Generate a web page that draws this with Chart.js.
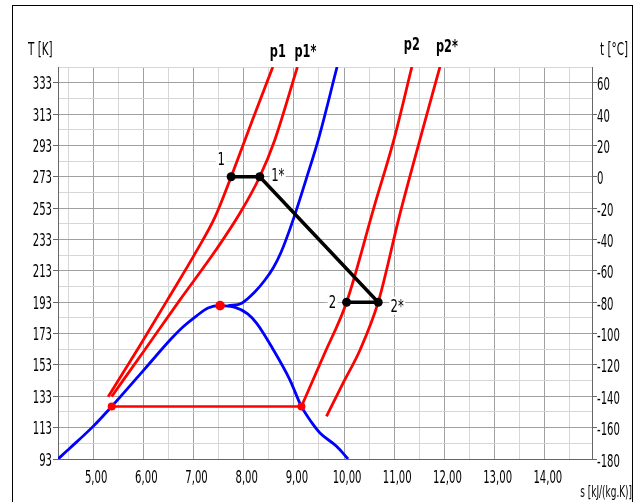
<!DOCTYPE html>
<html>
<head>
<meta charset="utf-8">
<script src="https://cdn.jsdelivr.net/npm/chart.js@4.4.1/dist/chart.umd.min.js"></script>
<style>
  html, body { margin: 0; padding: 0; background: #fff; }
</style>
</head>
<body>
<canvas id="c" width="635" height="502"></canvas>
<script>
// s [kJ/(kg.K)] and T [K]
const domeS = [4.30, 4.54, 5.00, 5.37, 6.03, 6.56, 6.80, 7.03, 7.29, 7.53, 7.83, 8.08, 8.26, 8.59, 8.92, 9.15, 9.35, 9.52, 9.85, 10.08];
const domeT = [93, 100, 113.8, 126.5, 150.5, 169.8, 177.5, 183.5, 189.3, 190.8, 189.7, 185.6, 179.5, 162.7, 143.5, 126.5, 116.5, 109.6, 101.1, 93];

const critS = [7.69, 7.96, 8.22, 8.42, 8.59, 8.74, 8.99, 9.25, 9.49, 9.86];
const critT = [190.7, 192.4, 199.5, 207, 215, 224.5, 246, 272, 297, 343];

const p1S = [5.30, 5.93, 6.53, 7.05, 7.43, 7.75, 8.16, 8.58];
const p1T = [132.7, 165.2, 197.1, 225.1, 247.4, 273, 308, 343];

const p1sS = [5.37, 6.03, 6.73, 7.45, 7.93, 8.32, 8.62, 9.07];
const p1sT = [132.9, 162.7, 194.5, 226.4, 250, 273, 296.5, 343];

const p2S = [9.15, 9.60, 10.05, 10.60, 11.00, 11.35];
const p2T = [126.5, 159.5, 193, 254, 297.5, 343];

const p2sS = [9.65, 9.98, 10.32, 10.68, 11.10, 11.51, 11.91];
const p2sT = [120.2, 141.4, 162.7, 193, 247.6, 296.5, 343];

// liquid-vapour line and critical point
const satS = [5.37, 9.15];
const satT = [126.5, 126.5];
const critPointS = [7.53];
const critPointT = [190.8];

// process 1 -> 1* -> 2* -> 2
const procNames = ['1', '1*', '2*', '2'];
const procS = [7.75, 8.32, 10.68, 10.05];
const procT = [273, 273, 193, 193];

const curveNames = ['p1', 'p1*', 'p2', 'p2*'];

// axis ticks
const sTicks = [4.5, 5, 5.5, 6, 6.5, 7, 7.5, 8, 8.5, 9, 9.5, 10, 10.5, 11, 11.5, 12, 12.5, 13, 13.5, 14, 14.5];
const kTicks = [93, 103, 113, 123, 133, 143, 153, 163, 173, 183, 193, 203, 213, 223, 233, 243, 253, 263, 273, 283, 293, 303, 313, 323, 333, 343];
const cTicks = [-180, -160, -140, -120, -100, -80, -60, -40, -20, 0, 20, 40, 60];

const sLabel = (v) => Number.isInteger(v) ? v.toFixed(2).replace('.', ',') : '';
const kLabel = (v) => (v - 93) % 20 === 0 && v < 343 ? String(v) : '';
const cLabel = (v) => String(v);

const FONT = "'DejaVu Sans Condensed', 'DejaVu Sans', sans-serif";
const DARK = '#a0a0a0';
const LIGHT = '#d6d6d6';

const pts = (xs, ys) => xs.map((v, i) => ({ x: v, y: ys[i] }));

function curve(xs, ys, color) {
  return {
    data: pts(xs, ys),
    borderColor: color,
    borderWidth: 2.8,
    pointRadius: 0,
    cubicInterpolationMode: 'monotone',
    showLine: true,
    fill: false
  };
}

const datasets = [
  {
    data: pts(procS, procT),
    borderColor: '#000',
    backgroundColor: '#000',
    borderWidth: 3.5,
    pointRadius: 4.5,
    pointBackgroundColor: '#000',
    pointBorderWidth: 0,
    showLine: true,
    tension: 0
  },
  {
    data: pts(critPointS, critPointT),
    pointRadius: 4.8,
    pointBackgroundColor: '#ff0000',
    pointBorderWidth: 0,
    showLine: false
  },
  {
    data: pts(satS, satT),
    borderColor: '#ff0000',
    borderWidth: 2.6,
    pointRadius: 4,
    pointBackgroundColor: '#ff0000',
    pointBorderWidth: 0,
    showLine: true,
    tension: 0
  },
  curve(p1S, p1T, '#ff0000'),
  curve(p1sS, p1sT, '#ff0000'),
  curve(p2S, p2T, '#ff0000'),
  curve(p2sS, p2sT, '#ff0000'),
  curve(domeS, domeT, '#0000ff'),
  curve(critS, critT, '#0000ff')
];

function setTicks(values) {
  return (scale) => { scale.ticks = values.map(v => ({ value: v })); };
}

// narrow text: the original uses a tall condensed face
function txt(ctx, s, x, y, size, sx, align, bold) {
  ctx.save();
  ctx.font = (bold ? 'bold ' : '') + size + 'px ' + FONT;
  ctx.translate(x, y);
  ctx.scale(sx, 1);
  ctx.textAlign = align;
  ctx.textBaseline = 'alphabetic';
  ctx.fillText(s, 0, 0);
  ctx.restore();
}

const decor = {
  id: 'decor',
  afterDraw(chart) {
    const { ctx, scales: { x, y, yc } } = chart;
    ctx.save();
    ctx.strokeStyle = '#000';
    ctx.lineWidth = 1;
    ctx.strokeRect(12.5, 5.5, 620, 500);
    ctx.fillStyle = '#000';

    // tick labels at the scales' own tick positions
    x.ticks.forEach(t => {
      const l = sLabel(t.value);
      if (l) txt(ctx, l, x.getPixelForValue(t.value) + 3, 483, 17, 0.66, 'center');
    });
    y.ticks.forEach(t => {
      const l = kLabel(t.value);
      if (l) txt(ctx, l, 52, y.getPixelForValue(t.value) + 6.5, 17, 0.66, 'right');
    });
    yc.ticks.forEach(t => {
      txt(ctx, cLabel(t.value), 597, yc.getPixelForValue(t.value) + 7.5, 17, 0.66, 'left');
    });

    // axis titles
    txt(ctx, 'T [K]', 28, 55, 17, 0.68, 'left');
    txt(ctx, 't [\u00B0C]', 600, 55, 17, 0.68, 'left');
    txt(ctx, 's [kJ/(kg.K)]', 632, 497, 15, 0.66, 'right');

    // isobar names above the plot, at the top end of each curve
    const tops = [p1S, p1sS, p2S, p2sS].map(a => a[a.length - 1]);
    const dx = [5, 8, 0, 7];
    const base = [57, 57, 50, 52];
    tops.forEach((s, i) => {
      txt(ctx, curveNames[i], x.getPixelForValue(s) + dx[i], base[i], 18, 0.7, 'center', true);
    });

    // process point names on white boxes
    const off = [[-10, -12], [18, 4], [19, 9.5], [-14, 6]];
    procNames.forEach((n, i) => {
      const px = x.getPixelForValue(procS[i]) + off[i][0];
      const py = y.getPixelForValue(procT[i]) + off[i][1];
      const w = n.length > 1 ? 16 : 10;
      ctx.fillStyle = '#fff';
      ctx.fillRect(px - w / 2, py - 15, w, 18);
      ctx.fillStyle = '#000';
      txt(ctx, n, px, py, 18, 0.72, 'center');
    });
    ctx.restore();
  }
};

new Chart(document.getElementById('c'), {
  type: 'scatter',
  data: { datasets },
  options: {
    responsive: false,
    animation: false,
    layout: { padding: { top: 67, left: 0, right: 0, bottom: 0 } },
    plugins: {
      legend: { display: false },
      tooltip: { enabled: false },
      title: { display: false }
    },
    scales: {
      x: {
        type: 'linear',
        min: 4.3,
        max: 14.94,
        afterBuildTicks: setTicks(sTicks),
        afterFit: (s) => { s.height = 43; },
        border: { color: '#666', width: 1 },
        grid: {
          color: (c) => Number.isInteger(c.tick.value) ? DARK : LIGHT,
          drawTicks: false
        },
        ticks: { display: false, autoSkip: false }
      },
      y: {
        type: 'linear',
        position: 'left',
        min: 93,
        max: 343,
        afterBuildTicks: setTicks(kTicks),
        afterFit: (s) => { s.width = 58; },
        border: { color: '#666', width: 1 },
        grid: {
          color: (c) => (c.tick.value - 93) % 20 === 0 ? DARK : LIGHT,
          tickColor: (c) => kLabel(c.tick.value) ? '#666' : 'rgba(0,0,0,0)',
          tickLength: 5
        },
        ticks: { display: false, autoSkip: false }
      },
      yc: {
        type: 'linear',
        position: 'right',
        min: -180,
        max: 70,
        afterBuildTicks: setTicks(cTicks),
        afterFit: (s) => { s.width = 43; },
        border: { color: '#666', width: 1 },
        grid: {
          drawOnChartArea: false,
          tickColor: '#666',
          tickLength: 5
        },
        ticks: { display: false, autoSkip: false }
      }
    }
  },
  plugins: [decor]
});
</script>
</body>
</html>
